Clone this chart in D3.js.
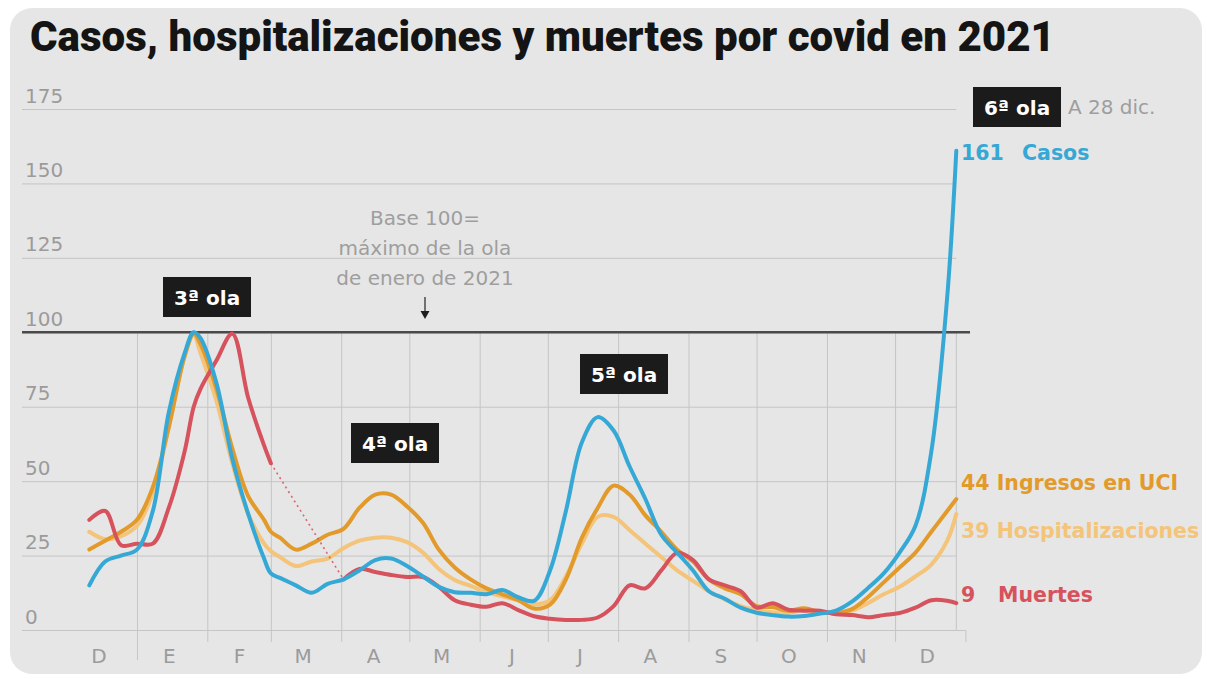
<!DOCTYPE html>
<html lang="es">
<head>
<meta charset="utf-8">
<script src="https://cdn.jsdelivr.net/npm/d3@7"></script>
<style>
  html, body { margin: 0; padding: 0; background: #ffffff; }
  svg { display: block; }
</style>
</head>
<body>
<svg id="chart" width="1207" height="679"></svg>
<script>
// Índices semanales, base 100 = máximo de la ola de enero de 2021
const fechas = [
  "2020-12-11","2020-12-18","2020-12-25","2021-01-01","2021-01-08","2021-01-15","2021-01-22","2021-01-26",
  "2021-01-29","2021-02-05","2021-02-12","2021-02-19","2021-02-26","2021-03-01","2021-03-05","2021-03-12",
  "2021-03-19","2021-03-26","2021-04-02","2021-04-09","2021-04-16","2021-04-23","2021-04-30","2021-05-07",
  "2021-05-14","2021-05-21","2021-05-28","2021-06-04","2021-06-11","2021-06-18","2021-06-25","2021-07-02",
  "2021-07-09","2021-07-16","2021-07-23","2021-07-30","2021-08-06","2021-08-13","2021-08-20","2021-08-27",
  "2021-09-03","2021-09-10","2021-09-17","2021-09-24","2021-10-01","2021-10-08","2021-10-15","2021-10-22",
  "2021-10-29","2021-11-05","2021-11-12","2021-11-19","2021-11-26","2021-12-03","2021-12-10","2021-12-17",
  "2021-12-24","2021-12-28"
];

const casos = [
  15, 23, 25, 27, 40, 73, 93, 100,
  98, 83, 57.5, 39, 24, 19, 17.5, 15,
  12.5, 15.5, 17, 20, 23.5, 24, 21.5, 18,
  14.5, 12.7, 12.5, 12, 13.4, 11, 9.8, 20,
  40, 63, 71.5, 67, 55, 44, 32, 26,
  20, 13, 10.5, 7.5, 5.8, 5, 4.5, 4.7,
  5.5, 6.5, 9.5, 14, 19, 26, 35, 60,
  112, 161
];

const uci = [
  27, 30, 33, 37, 48, 68, 92, 99.5,
  96, 81, 61, 45, 37, 33, 31, 27,
  29, 32, 34, 41, 45.5, 45.5, 41.5, 36,
  27, 21, 17, 14, 12, 10, 7.2, 8.5,
  17, 31, 41, 48.5, 45.5, 38.5, 33, 27,
  23, 17, 14, 12, 8, 7.7, 6.5, 7.3,
  6, 5.7, 7, 11, 16, 21, 26, 33,
  40, 44
];

const hospitalizaciones = [
  33, 30.5, 31.5, 35, 46, 68, 92, 99,
  93, 77, 56, 39, 29, 26.5, 24.5, 21.5,
  23, 24, 27.5, 30, 31, 31, 29.5, 26,
  20.5, 16.8, 14.8, 12.7, 11.3, 10, 8.6, 10,
  18, 29, 38, 38, 33.6, 29, 24.5, 20,
  16.5, 13, 10.3, 8, 6.7, 6, 5.8, 6.6,
  6, 5.7, 6.5, 9, 12, 14.5, 18, 22,
  30, 39
];

// Sin datos de fallecidos entre marzo y abril: se une con línea punteada
const muertes = [
  37, 40, 28.5, 29, 29, 41, 60, 75,
  81, 90.5, 99.5, 78, 62, 56, null, null,
  null, null, 17, 20.5, 19.5, 18.5, 17.8, 17.8,
  14.5, 10, 8.5, 7.8, 9, 6.7, 4.6, 3.8,
  3.4, 3.4, 4.2, 8, 15, 14, 20, 25.9,
  23.5, 17, 15, 13, 7.5, 9, 6.8, 6.5,
  6.5, 5.3, 5, 4.3, 5, 5.7, 7.5, 10,
  9.8, 9
];

const yTicks = [0, 25, 50, 75, 100, 125, 150, 175];
const mesesIniciales = ["D", "E", "F", "M", "A", "M", "J", "J", "A", "S", "O", "N", "D"];

const series = [
  { nombre: "Hospitalizaciones", valores: hospitalizaciones, color: "#f3c479" },
  { nombre: "Ingresos en UCI", valores: uci, color: "#e29a2b" },
  { nombre: "Muertes", valores: muertes, color: "#d6525d" },
  { nombre: "Casos", valores: casos, color: "#35a8d6" }
];

const parse = d3.utcParse("%Y-%m-%d");
const dias = fechas.map(parse);
const ultimaFecha = dias[dias.length - 1];

const svg = d3.select("#chart");
const sans = "'DejaVu Sans', Verdana, sans-serif";

const x = d3.scaleUtc()
  .domain([parse("2020-12-01"), parse("2022-01-01")])
  .range([66.6, 965.4]);
const y = d3.scaleLinear().domain([0, 175]).range([630, 109]);

// Tarjeta de fondo
svg.append("rect")
  .attr("x", 10).attr("y", 8).attr("width", 1192).attr("height", 666)
  .attr("rx", 22).attr("fill", "#e6e6e6");

// Título
svg.append("text")
  .attr("x", 30).attr("y", 51)
  .attr("textLength", 1025).attr("lengthAdjust", "spacingAndGlyphs")
  .attr("font-family", "'Liberation Sans Narrow', Roboto, 'Liberation Sans', sans-serif")
  .attr("font-weight", 900).attr("font-size", 42).attr("fill", "#141414")
  .text("Casos, hospitalizaciones y muertes por covid en 2021");

// Eje Y: rejilla horizontal con etiquetas sobre cada línea
const gy = svg.append("g")
  .attr("transform", "translate(22,0)")
  .call(d3.axisLeft(y).tickValues(yTicks).tickSize(-(x(ultimaFecha) - 22)).tickFormat(d3.format("d")));
gy.select(".domain").remove();
gy.attr("font-family", sans).attr("font-size", 20);
gy.selectAll(".tick line").attr("stroke", "#c5c5c5").attr("stroke-width", 1);
gy.selectAll(".tick text")
  .attr("x", 3).attr("dy", -7).attr("text-anchor", "start").attr("fill", "#9b9b9b");
gy.selectAll(".tick").filter(d => d === 0).select("line")
  .attr("x2", x(parse("2022-01-01")) - 22);

// Eje X: rejilla vertical por meses (solo bajo la línea de 100) y marcas
const inicioMes = d3.utcMonth.range(parse("2021-01-01"), parse("2022-01-02"));
const gx = svg.append("g")
  .attr("transform", `translate(0,${y(0)})`)
  .call(d3.axisBottom(x).tickValues(inicioMes).tickSize(12).tickFormat(""));
gx.select(".domain").remove();
gx.selectAll(".tick line")
  .attr("stroke", "#c5c5c5").attr("stroke-width", 1)
  .attr("y1", d => d < ultimaFecha ? y(100) - y(0) : 0)
  .attr("y2", d => (+d === +parse("2021-01-01")) ? 30 : 12);

// Borde derecho del área de datos
svg.append("line")
  .attr("x1", x(ultimaFecha)).attr("x2", x(ultimaFecha))
  .attr("y1", y(100)).attr("y2", y(0))
  .attr("stroke", "#c5c5c5").attr("stroke-width", 1);

// Iniciales de los meses, centradas a mitad de mes
const mitadMes = d3.utcMonth.range(parse("2020-12-01"), parse("2022-01-01")).map(d => d3.utcDay.offset(d, 14));
const gm = svg.append("g")
  .attr("transform", `translate(0,${y(0)})`)
  .call(d3.axisBottom(x).tickValues(mitadMes).tickSize(0).tickFormat((d, i) => mesesIniciales[i]));
gm.select(".domain").remove();
gm.attr("font-family", sans).attr("font-size", 20);
gm.selectAll(".tick text").attr("y", 33).attr("dy", 0).attr("fill", "#9b9b9b");

// Línea de referencia: 100
svg.append("line")
  .attr("x1", 22).attr("x2", 970)
  .attr("y1", y(100)).attr("y2", y(100))
  .attr("stroke", "#4a4a4a").attr("stroke-width", 2.5);

// Anotación de la base 100
const nota = svg.append("text")
  .attr("font-family", sans).attr("font-size", 20).attr("fill", "#9e9e9e")
  .attr("text-anchor", "middle");
["Base 100=", "máximo de la ola", "de enero de 2021"].forEach((t, i) => {
  nota.append("tspan").attr("x", 425).attr("y", 225 + i * 30).text(t);
});
svg.append("line")
  .attr("x1", 425).attr("x2", 425).attr("y1", 297).attr("y2", 313)
  .attr("stroke", "#333").attr("stroke-width", 1.3);
svg.append("path")
  .attr("d", "M420.5,311 L429.5,311 L425,319 Z").attr("fill", "#1e1e1e");

// Series
const linea = d3.line()
  .defined(d => d.v != null)
  .x(d => x(d.fecha))
  .y(d => y(d.v))
  .curve(d3.curveCatmullRom.alpha(0.5));

series.forEach(s => {
  const puntos = dias.map((f, i) => ({ fecha: f, v: s.valores[i] }));

  // Tramo sin datos: se une con puntos
  const idxNulos = puntos.map((p, i) => p.v == null ? i : -1).filter(i => i >= 0);
  if (idxNulos.length) {
    const a = puntos[idxNulos[0] - 1];
    const b = puntos[idxNulos[idxNulos.length - 1] + 1];
    svg.append("line")
      .attr("x1", x(a.fecha)).attr("y1", y(a.v))
      .attr("x2", x(b.fecha)).attr("y2", y(b.v))
      .attr("stroke", s.color).attr("stroke-width", 1.6)
      .attr("stroke-dasharray", "2,3.5").attr("opacity", 0.85);
  }

  svg.append("path")
    .datum(puntos)
    .attr("d", linea)
    .attr("fill", "none")
    .attr("stroke", s.color)
    .attr("stroke-width", 4)
    .attr("stroke-linejoin", "round")
    .attr("stroke-linecap", "round");
});

// Etiquetas finales de cada serie
const etiquetas = [
  { serie: "Casos", baseline: 160, xNombre: 1022 },
  { serie: "Ingresos en UCI", baseline: 490, xNombre: null },
  { serie: "Hospitalizaciones", baseline: 538, xNombre: null },
  { serie: "Muertes", baseline: 602, xNombre: 998 }
];
etiquetas.forEach(e => {
  const s = series.find(d => d.nombre === e.serie);
  const ultimo = s.valores[s.valores.length - 1];
  const t = svg.append("text")
    .attr("y", e.baseline)
    .attr("font-family", sans).attr("font-weight", 700).attr("font-size", 20.5)
    .attr("fill", s.color);
  if (e.xNombre) {
    t.append("tspan").attr("x", 961).text(ultimo);
    t.append("tspan").attr("x", e.xNombre).text(s.nombre);
  } else {
    t.append("tspan").attr("x", 961).text(`${ultimo} ${s.nombre}`);
  }
});

// Olas
const olas = [
  { texto: "3ª ola", x: 163, y: 277 },
  { texto: "4ª ola", x: 351, y: 423 },
  { texto: "5ª ola", x: 580, y: 354 },
  { texto: "6ª ola", x: 973, y: 87 }
];
olas.forEach(o => {
  svg.append("rect")
    .attr("x", o.x).attr("y", o.y).attr("width", 88).attr("height", 40)
    .attr("fill", "#1b1b1b");
  svg.append("text")
    .attr("x", o.x + 44).attr("y", o.y + 28)
    .attr("text-anchor", "middle")
    .attr("font-family", sans).attr("font-weight", 700).attr("font-size", 20)
    .attr("fill", "#ffffff")
    .text(o.texto);
});

svg.append("text")
  .attr("x", 1068).attr("y", 114)
  .attr("font-family", sans).attr("font-size", 20).attr("fill", "#9e9e9e")
  .text("A 28 dic.");
</script>
</body>
</html>
